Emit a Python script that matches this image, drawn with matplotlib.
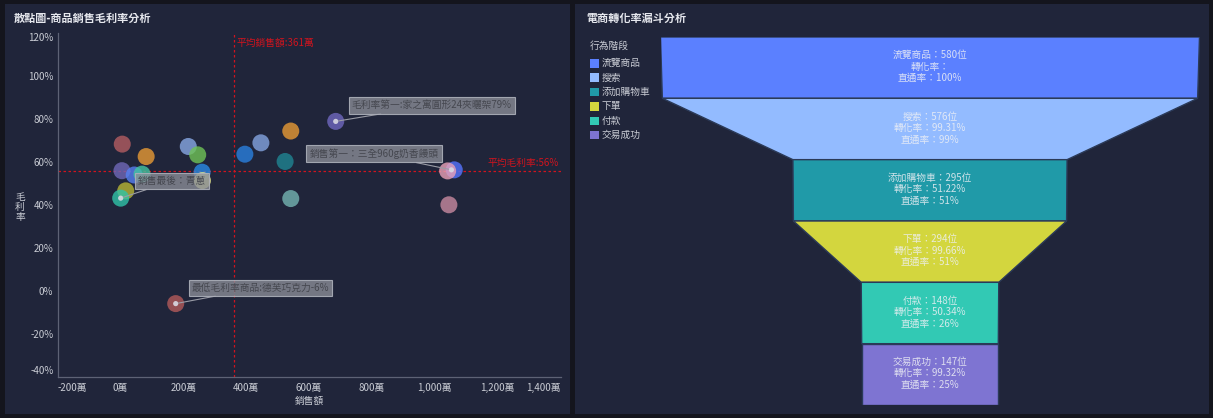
import matplotlib
matplotlib.use("Agg")
import matplotlib.pyplot as plt
from matplotlib.patches import Rectangle, Polygon
from matplotlib.ticker import FuncFormatter, FixedLocator

plt.rcParams['font.family'] = ['Noto Sans CJK TC', 'DejaVu Sans']

# ---------------- data ----------------
# scatter: sales (萬) and gross margin (%)
sales = [6, 82, 5, 44, 69, 17, 1, 216, 246, 260, 261, 396, 447, 542, 524, 542, 685, 1062, 1041, 1045, 176]
margin = [68.4, 62.6, 56, 54, 54.4, 46.6, 43.2, 67.3, 63.4, 55.3, 51.4, 63.7, 69, 74.5, 60.3, 43, 79, 56.4, 55.9, 40.1, -6]
point_colors = ["#b35d62", "#e89a34", "#7068b8", "#5680f2", "#43c5a1", "#b8b634", "#30c3a8",
                "#88a8e4", "#6fc456", "#2a8ae4", "#ecec8a", "#2a80df", "#84a4e0", "#e89a34",
                "#1f8592", "#75b5b2", "#7068c0", "#5674ff", "#eaa2b8", "#c98aa0", "#b35a5a"]
avg_sales = 361
avg_margin = 56
x_ticks = [-200, 0, 200, 400, 600, 800, 1000, 1200, 1400]
y_ticks = [-40, -20, 0, 20, 40, 60, 80, 100, 120]

# annotated points: (sales, margin, text, dx_px, dy_px, ha)
notes = [
    (685, 79, "毛利率第一:家之寓圓形24夾曬架79%", 16, 16, "left"),
    (1053, 56.4, "銷售第一：三全960g奶香饅頭", -13, 16, "right"),
    (1, 43.2, "銷售最後：青蔥", 17, 17, "left"),
    (176, -6, "最低毛利率商品:德芙巧克力-6%", 16, 16, "left"),
]

# funnel
stages = ["流覽商品", "搜索", "添加購物車", "下單", "付款", "交易成功"]
counts = [580, 576, 295, 294, 148, 147]
conv_rates = ["", "99.31%", "51.22%", "99.66%", "50.34%", "99.32%"]
pass_rates = ["100%", "99%", "51%", "51%", "26%", "25%"]
stage_colors = ["#5b80ff", "#93bbff", "#209aa8", "#d3d63e", "#32c9b4", "#7e74d2"]

# ---------------- figure ----------------
W, H = 1213, 418
fig = plt.figure(figsize=(W / 100, H / 100), dpi=100)
fig.patch.set_facecolor("#14151d")


def px_axes(x0, y0, x1, y1, **kw):
    return fig.add_axes([x0 / W, 1 - y1 / H, (x1 - x0) / W, (y1 - y0) / H], **kw)


bg = px_axes(0, 0, W, H)
bg.set_xlim(0, W)
bg.set_ylim(H, 0)
bg.axis("off")
bg.set_zorder(0)
panel_c = "#20253a"
bg.add_patch(Rectangle((5, 4), 565, 410, facecolor=panel_c, edgecolor="none"))
bg.add_patch(Rectangle((575, 4), 634, 410, facecolor=panel_c, edgecolor="none"))

title_c = "#e6e8ee"
bg.text(14, 18, "散點圖-商品銷售毛利率分析", color=title_c, fontsize=8, fontweight="bold",
        ha="left", va="center")
bg.text(586, 18, "電商轉化率漏斗分析", color=title_c, fontsize=8, fontweight="bold",
        ha="left", va="center")

# legend for funnel
text_c = "#c9ccd4"
bg.text(590, 45.5, "行為階段", color=text_c, fontsize=7, ha="left", va="center")
for i, (name, col) in enumerate(zip(stages, stage_colors)):
    yc = 63.3 + i * 14.35
    bg.add_patch(Rectangle((589.5, yc - 4.2), 9, 8.4, facecolor=col, edgecolor="none"))
    bg.text(602, yc, name, color=text_c, fontsize=7, ha="left", va="center")

# ---------------- scatter ----------------
ax = px_axes(57.5, 33.5, 560.5, 376.5)
ax.set_zorder(2)
ax.patch.set_alpha(0)
ax.set_xlim(-200, 1400)
ax.set_ylim(-40, 120)
for s in ["top", "right"]:
    ax.spines[s].set_visible(False)
for s in ["left", "bottom"]:
    ax.spines[s].set_color("#5d6275")
    ax.spines[s].set_linewidth(0.9)
ax.xaxis.set_major_locator(FixedLocator(x_ticks))
ax.yaxis.set_major_locator(FixedLocator(y_ticks))
ax.xaxis.set_major_formatter(FuncFormatter(lambda v, p: f"{v:,.0f}萬"))
ax.yaxis.set_major_formatter(FuncFormatter(lambda v, p: f"{v:.0f}%"))
ax.tick_params(axis="both", length=0, colors=text_c, labelsize=7)
ax.tick_params(axis="x", pad=5)
ax.tick_params(axis="y", pad=3)
fig.canvas.draw()
xl = ax.get_xticklabels()
xl[0].set_ha("left")
xl[-1].set_ha("right")
yl = ax.get_yticklabels()
yl[0].set_va("bottom")
yl[-1].set_va("top")

ax.scatter(sales, margin, s=150, c=point_colors, alpha=0.8, edgecolors="none", zorder=3)

red = "#d0141e"
ax.axvline(avg_sales, color=red, lw=0.9, linestyle=(0, (2, 2)), zorder=2)
ax.axhline(avg_margin, color=red, lw=0.9, linestyle=(0, (2, 2)), zorder=2)
ax.annotate(f"平均銷售額:{avg_sales}萬", (avg_sales, 120), xytext=(3, -9),
            textcoords="offset pixels", color=red, fontsize=7, ha="left", va="center")
ax.annotate(f"平均毛利率:{avg_margin}%", (1400, avg_margin), xytext=(-2, 8),
            textcoords="offset pixels", color=red, fontsize=7, ha="right", va="center")

for xv, yv, txt, dx, dy, ha in notes:
    ax.scatter([xv], [yv], s=14, color="#d9d9e3", alpha=0.9, edgecolors="none", zorder=4)
    ax.annotate(txt, (xv, yv), xytext=(dx, dy), textcoords="offset pixels",
                fontsize=7, color="#45474f", ha=ha, va="center", zorder=5,
                bbox=dict(boxstyle="square,pad=0.32", facecolor=(0.55, 0.56, 0.60, 0.78),
                          edgecolor=(0.68, 0.69, 0.73, 0.9), lw=0.8),
                arrowprops=dict(arrowstyle="-", color="#9a9ca6", lw=0.8,
                                shrinkA=0, shrinkB=2))

ax.set_xlabel("銷售額", color=text_c, fontsize=7, labelpad=2)
ax.set_ylabel("毛\n利\n率", color=text_c, fontsize=7, rotation=0, va="center",
              ha="center", linespacing=1.0)
ax.yaxis.set_label_coords(-0.0746, 0.494)

# ---------------- funnel ----------------
fx = px_axes(660.5, 37, 1199.5, 405)
fx.set_zorder(2)
fx.patch.set_alpha(0)
fx.set_xlim(-max(counts) / 2, max(counts) / 2)
fx.set_ylim(0, len(counts))
fx.axis("off")
n = len(counts)
for i in range(n):
    top_w = counts[i]
    bot_w = counts[i + 1] if i + 1 < n else counts[i]
    yt = n - i
    yb = n - i - 1
    poly = Polygon([(-top_w / 2, yt), (top_w / 2, yt), (bot_w / 2, yb), (-bot_w / 2, yb)],
                   closed=True, facecolor=stage_colors[i], edgecolor="#2b3a58", lw=1.0)
    fx.add_patch(poly)
    yc = (yt + yb) / 2
    lines = [f"{stages[i]}：{counts[i]}位", f"轉化率：{conv_rates[i]}", f"直通率：{pass_rates[i]}"]
    for j, line in enumerate(lines):
        fx.annotate(line, (0, yc), xytext=(0, 1 - (j - 1) * 11.5), textcoords="offset pixels",
                    ha="center", va="center", fontsize=7, color="#eef0f5", alpha=0.85)

fig.savefig("out.png", dpi=100, facecolor=fig.get_facecolor())
